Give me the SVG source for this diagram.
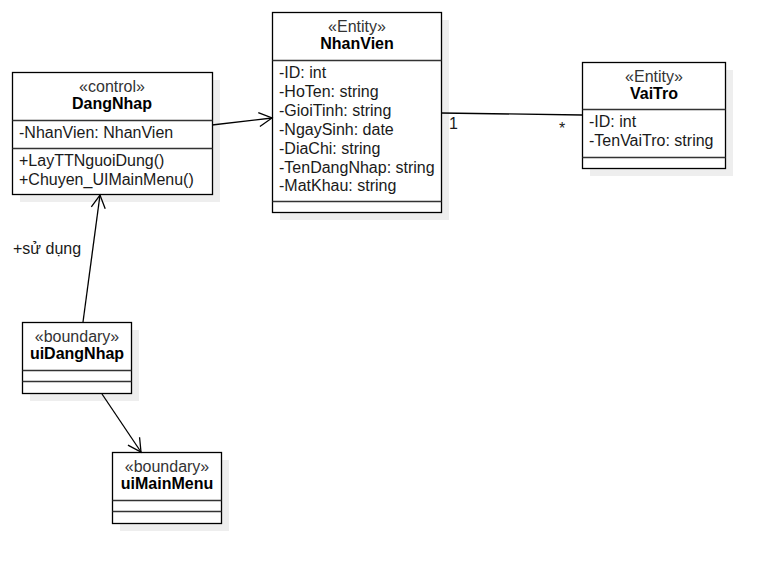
<svg xmlns="http://www.w3.org/2000/svg" width="773" height="573" viewBox="0 0 773 573">
  <style>
    text { font-family: "Liberation Sans", Arial, sans-serif; font-size: 16px; fill: #1a1a1a; }
    .st { text-anchor: middle; fill: #333; }
    .nm { text-anchor: middle; font-weight: bold; fill: #000; }
    .box { fill: #fff; stroke: #000; stroke-width: 1.3; }
    .shadow { fill: #eeeeee; stroke: none; }
    .div { stroke: #333; stroke-width: 1.3; fill: none; }
    .edge { stroke: #000; stroke-width: 1.3; fill: none; }
  </style>
  <defs>
    <marker id="open" markerUnits="userSpaceOnUse" markerWidth="16" markerHeight="16" refX="13" refY="7" orient="auto" overflow="visible">
      <path d="M0,0 L13,7 L0,14" fill="none" stroke="#000" stroke-width="1.3"/>
    </marker>
  </defs>

  <rect width="773" height="573" fill="#fff"/>

  <!-- control class DangNhap -->
  <g id="DangNhap">
    <rect class="shadow" x="20" y="80" width="200" height="122"/>
    <rect class="box" x="12.5" y="72.5" width="200" height="122"/>
    <line class="div" x1="12.5" y1="120.5" x2="212.5" y2="120.5"/>
    <line class="div" x1="12.5" y1="148.5" x2="212.5" y2="148.5"/>
    <text class="st" x="112" y="92">«control»</text>
    <text class="nm" x="112" y="109">DangNhap</text>
    <text x="19" y="138">-NhanVien: NhanVien</text>
    <text x="19" y="166">+LayTTNguoiDung()</text>
    <text x="19" y="185">+Chuyen_UIMainMenu()</text>
  </g>

  <!-- entity NhanVien -->
  <g id="NhanVien">
    <rect class="shadow" x="280" y="20" width="169" height="200"/>
    <rect class="box" x="272.5" y="12.5" width="169" height="200"/>
    <line class="div" x1="272.5" y1="60.5" x2="441.5" y2="60.5"/>
    <line class="div" x1="272.5" y1="201.5" x2="441.5" y2="201.5"/>
    <text class="st" x="357" y="32">«Entity»</text>
    <text class="nm" x="357" y="49">NhanVien</text>
    <text x="279" y="78">-ID: int</text>
    <text x="279" y="97">-HoTen: string</text>
    <text x="279" y="116">-GioiTinh: string</text>
    <text x="279" y="135">-NgaySinh: date</text>
    <text x="279" y="154">-DiaChi: string</text>
    <text x="279" y="173">-TenDangNhap: string</text>
    <text x="279" y="191">-MatKhau: string</text>
  </g>

  <!-- entity VaiTro -->
  <g id="VaiTro">
    <rect class="shadow" x="590" y="70" width="143" height="106"/>
    <rect class="box" x="582.5" y="62.5" width="143" height="106"/>
    <line class="div" x1="582.5" y1="109.5" x2="725.5" y2="109.5"/>
    <line class="div" x1="582.5" y1="157.5" x2="725.5" y2="157.5"/>
    <text class="st" x="654" y="82">«Entity»</text>
    <text class="nm" x="654" y="99">VaiTro</text>
    <text x="589" y="127">-ID: int</text>
    <text x="589" y="146">-TenVaiTro: string</text>
  </g>

  <!-- boundary uiDangNhap -->
  <g id="uiDangNhap">
    <rect class="shadow" x="30" y="330" width="109" height="71"/>
    <rect class="box" x="22.5" y="322.5" width="109" height="71"/>
    <line class="div" x1="22.5" y1="370.5" x2="131.5" y2="370.5"/>
    <line class="div" x1="22.5" y1="381.5" x2="131.5" y2="381.5"/>
    <text class="st" x="77" y="342">«boundary»</text>
    <text class="nm" x="77" y="359">uiDangNhap</text>
  </g>

  <!-- boundary uiMainMenu -->
  <g id="uiMainMenu">
    <rect class="shadow" x="120" y="460" width="109" height="71"/>
    <rect class="box" x="112.5" y="452.5" width="109" height="71"/>
    <line class="div" x1="112.5" y1="500.5" x2="221.5" y2="500.5"/>
    <line class="div" x1="112.5" y1="511.5" x2="221.5" y2="511.5"/>
    <text class="st" x="167" y="472">«boundary»</text>
    <text class="nm" x="167" y="489">uiMainMenu</text>
  </g>

  <!-- connectors, drawn over the node shadows -->
  <g id="connectors">
    <line class="edge" x1="212" y1="125" x2="272" y2="118" marker-end="url(#open)"/>
    <line class="edge" x1="83" y1="322" x2="100" y2="195" marker-end="url(#open)"/>
    <line class="edge" x1="102" y1="394" x2="141" y2="452" marker-end="url(#open)"/>
    <line class="edge" x1="441" y1="113" x2="582" y2="115"/>
    <text x="449" y="129">1</text>
    <text x="559" y="134">*</text>
    <text x="13" y="254">+sử dụng</text>
  </g>
</svg>
